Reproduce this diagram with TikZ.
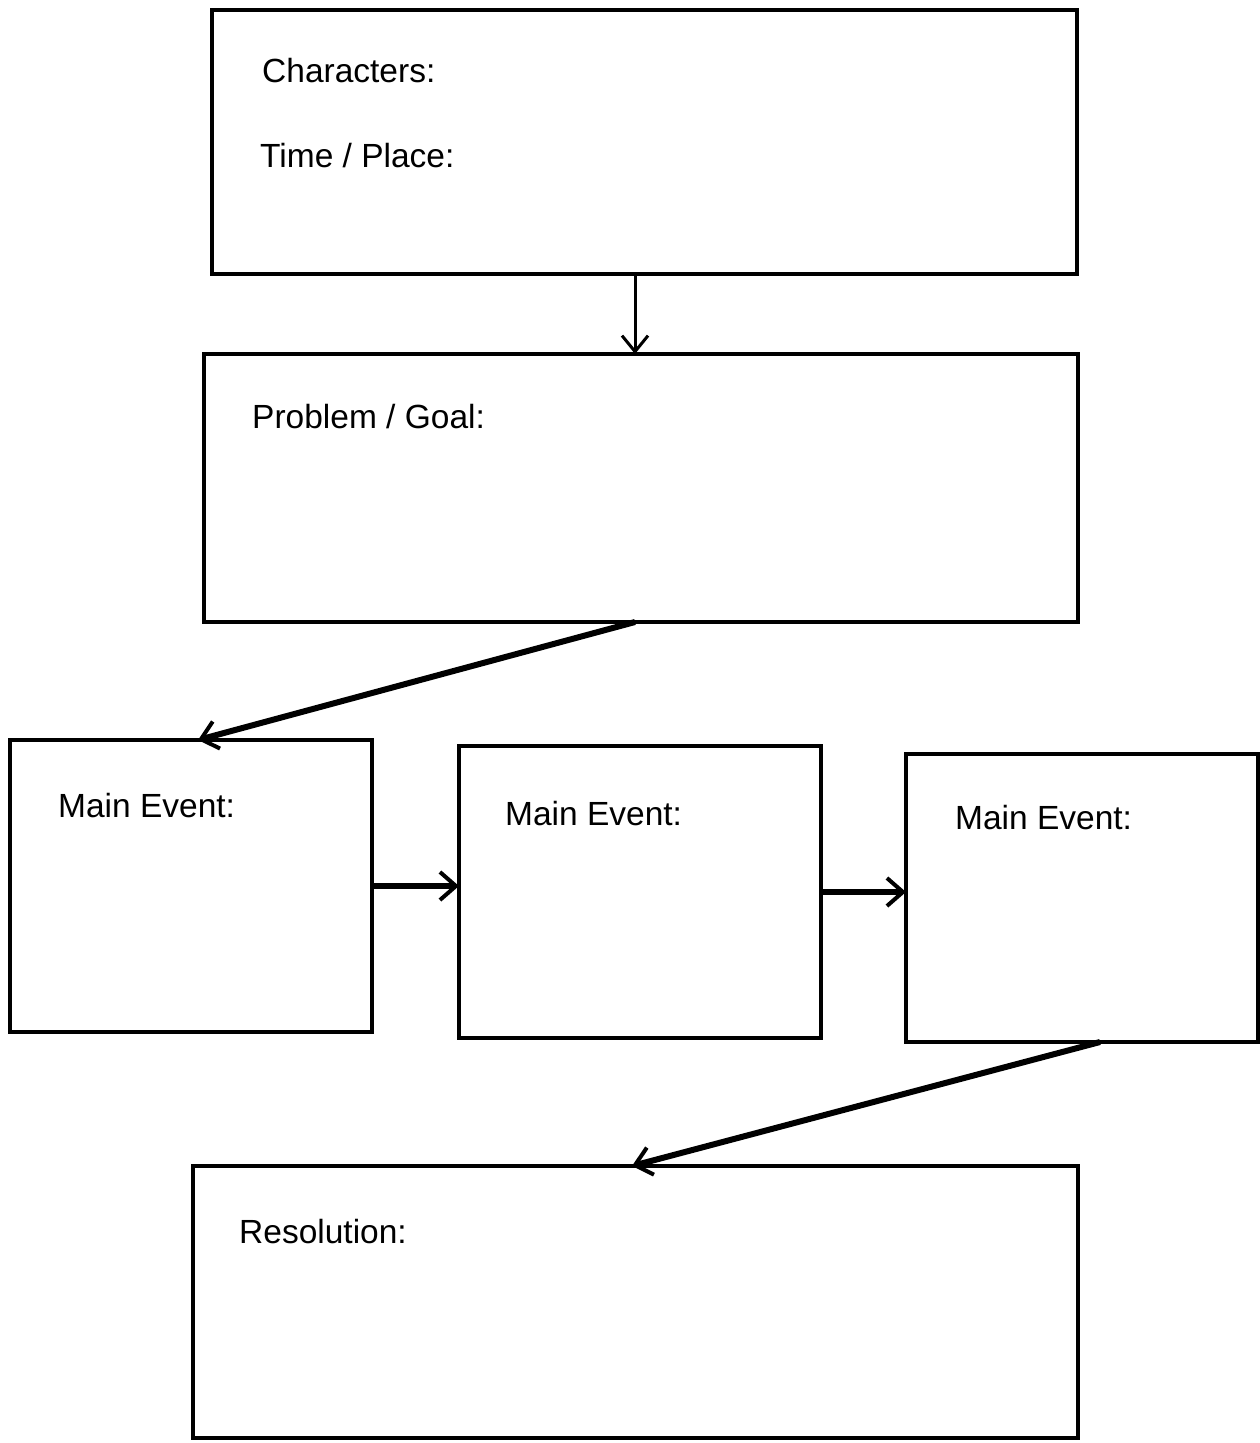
\documentclass[tikz,border=0pt]{standalone}
\usepackage{fontspec}
\setmainfont{Liberation Sans}
\usetikzlibrary{arrows.meta}
\begin{document}
\begin{tikzpicture}[x=1pt,y=-1pt,
  panel/.style={draw=black,line width=3.2pt,rectangle,inner sep=0pt,outer sep=0pt},
  lbl/.style={anchor=base west,inner sep=0pt,font=\fontsize{33.5}{40}\selectfont},
  thin arrow/.style={line width=3pt,-{Straight Barb[length=16pt,width=26pt,line width=3pt]}},
  thick arrow/.style={line width=6pt,-{Straight Barb[length=16pt,width=28pt,line width=4pt]}}]
\useasboundingbox[fill=white] (0,0) rectangle (1260,1443);
\node[panel,minimum width=865pt,minimum height=264pt] (b1) at (644.5,142) {};
\node[panel,minimum width=874pt,minimum height=268pt] (b2) at (641,488) {};
\node[panel,minimum width=362pt,minimum height=292pt] (b3) at (191,886) {};
\node[panel,minimum width=362pt,minimum height=292pt] (b4) at (640,892) {};
\node[panel,minimum width=352pt,minimum height=288pt] (b5) at (1082,898) {};
\node[panel,minimum width=885pt,minimum height=272pt] (b6) at (635.5,1302) {};
\node[lbl] (t1) at (262,82) {Characters:};
\node[lbl] (t2) at (260,167) {Time / Place:};
\node[lbl] (t3) at (252,428) {Problem / Goal:};
\node[lbl] (t4) at (58,817) {Main Event:};
\node[lbl] (t5) at (505,825) {Main Event:};
\node[lbl] (t6) at (955,829) {Main Event:};
\node[lbl] (t7) at (239,1243) {Resolution:};
\draw[thin arrow] ([xshift=-9.5pt]b1.south) -- ([xshift=-6pt]b2.north);
\draw[thick arrow] ([xshift=-6pt]b2.south) -- ([xshift=7pt]b3.north);
\draw[thick arrow] (b3.east) -- (b3.east -| b4.west);
\draw[thick arrow] (b4.east) -- (b4.east -| b5.west);
\draw[thick arrow] ([xshift=18pt]b5.south) -- ([xshift=-3.5pt]b6.north);
\end{tikzpicture}
\end{document}
